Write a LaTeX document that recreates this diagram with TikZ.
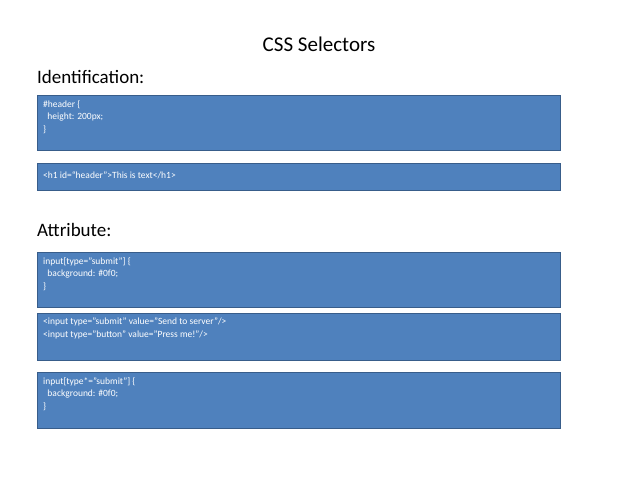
\documentclass[tikz,border=0pt]{standalone}
\usepackage{fontspec}
\setmainfont{Carlito}
\definecolor{boxfill}{HTML}{4F81BD}
\definecolor{boxline}{HTML}{385D8A}
\tikzset{codebox/.style={draw=boxline,fill=boxfill,line width=1pt},
 codetext/.style={anchor=north west,text=white,font=\fontsize{9.5}{12.5}\selectfont,align=left,inner sep=0pt}}
\begin{document}
\begin{tikzpicture}[x=1pt,y=-1pt]
\useasboundingbox (0,0) rectangle (638,479);
\node (title) at (319,44) {\fontsize{21}{24}\selectfont CSS Selectors};
\node[anchor=west,inner sep=0pt] (ident) at (37,77) {\fontsize{19}{22}\selectfont Identification:};
\node[anchor=west,inner sep=0pt] (attr) at (37,230) {\fontsize{19}{22}\selectfont Attribute:};
\draw[codebox] (37,95) rectangle (560,150);
\node[codetext] (t1) at (43,100) {\#header \{\\\ \ height: 200px;\\\}};
\draw[codebox] (37,163) rectangle (560,190);
\node[codetext] (t2) at (43,171) {<h1 id=“header”>This is text</h1>};
\draw[codebox] (37,252) rectangle (560,307);
\node[codetext] (t3) at (43,257) {input[type="submit"] \{\\\ \ background: \#0f0;\\\}};
\draw[codebox] (37,313) rectangle (560,360);
\node[codetext] (t4) at (43,318) {<input type="submit" value="Send to server"/>\\<input type="button" value="Press me!"/>};
\draw[codebox] (37,372) rectangle (560,428);
\node[codetext] (t5) at (43,377) {input[type*="submit"] \{\\\ \ background: \#0f0;\\\}};
\end{tikzpicture}
\end{document}
